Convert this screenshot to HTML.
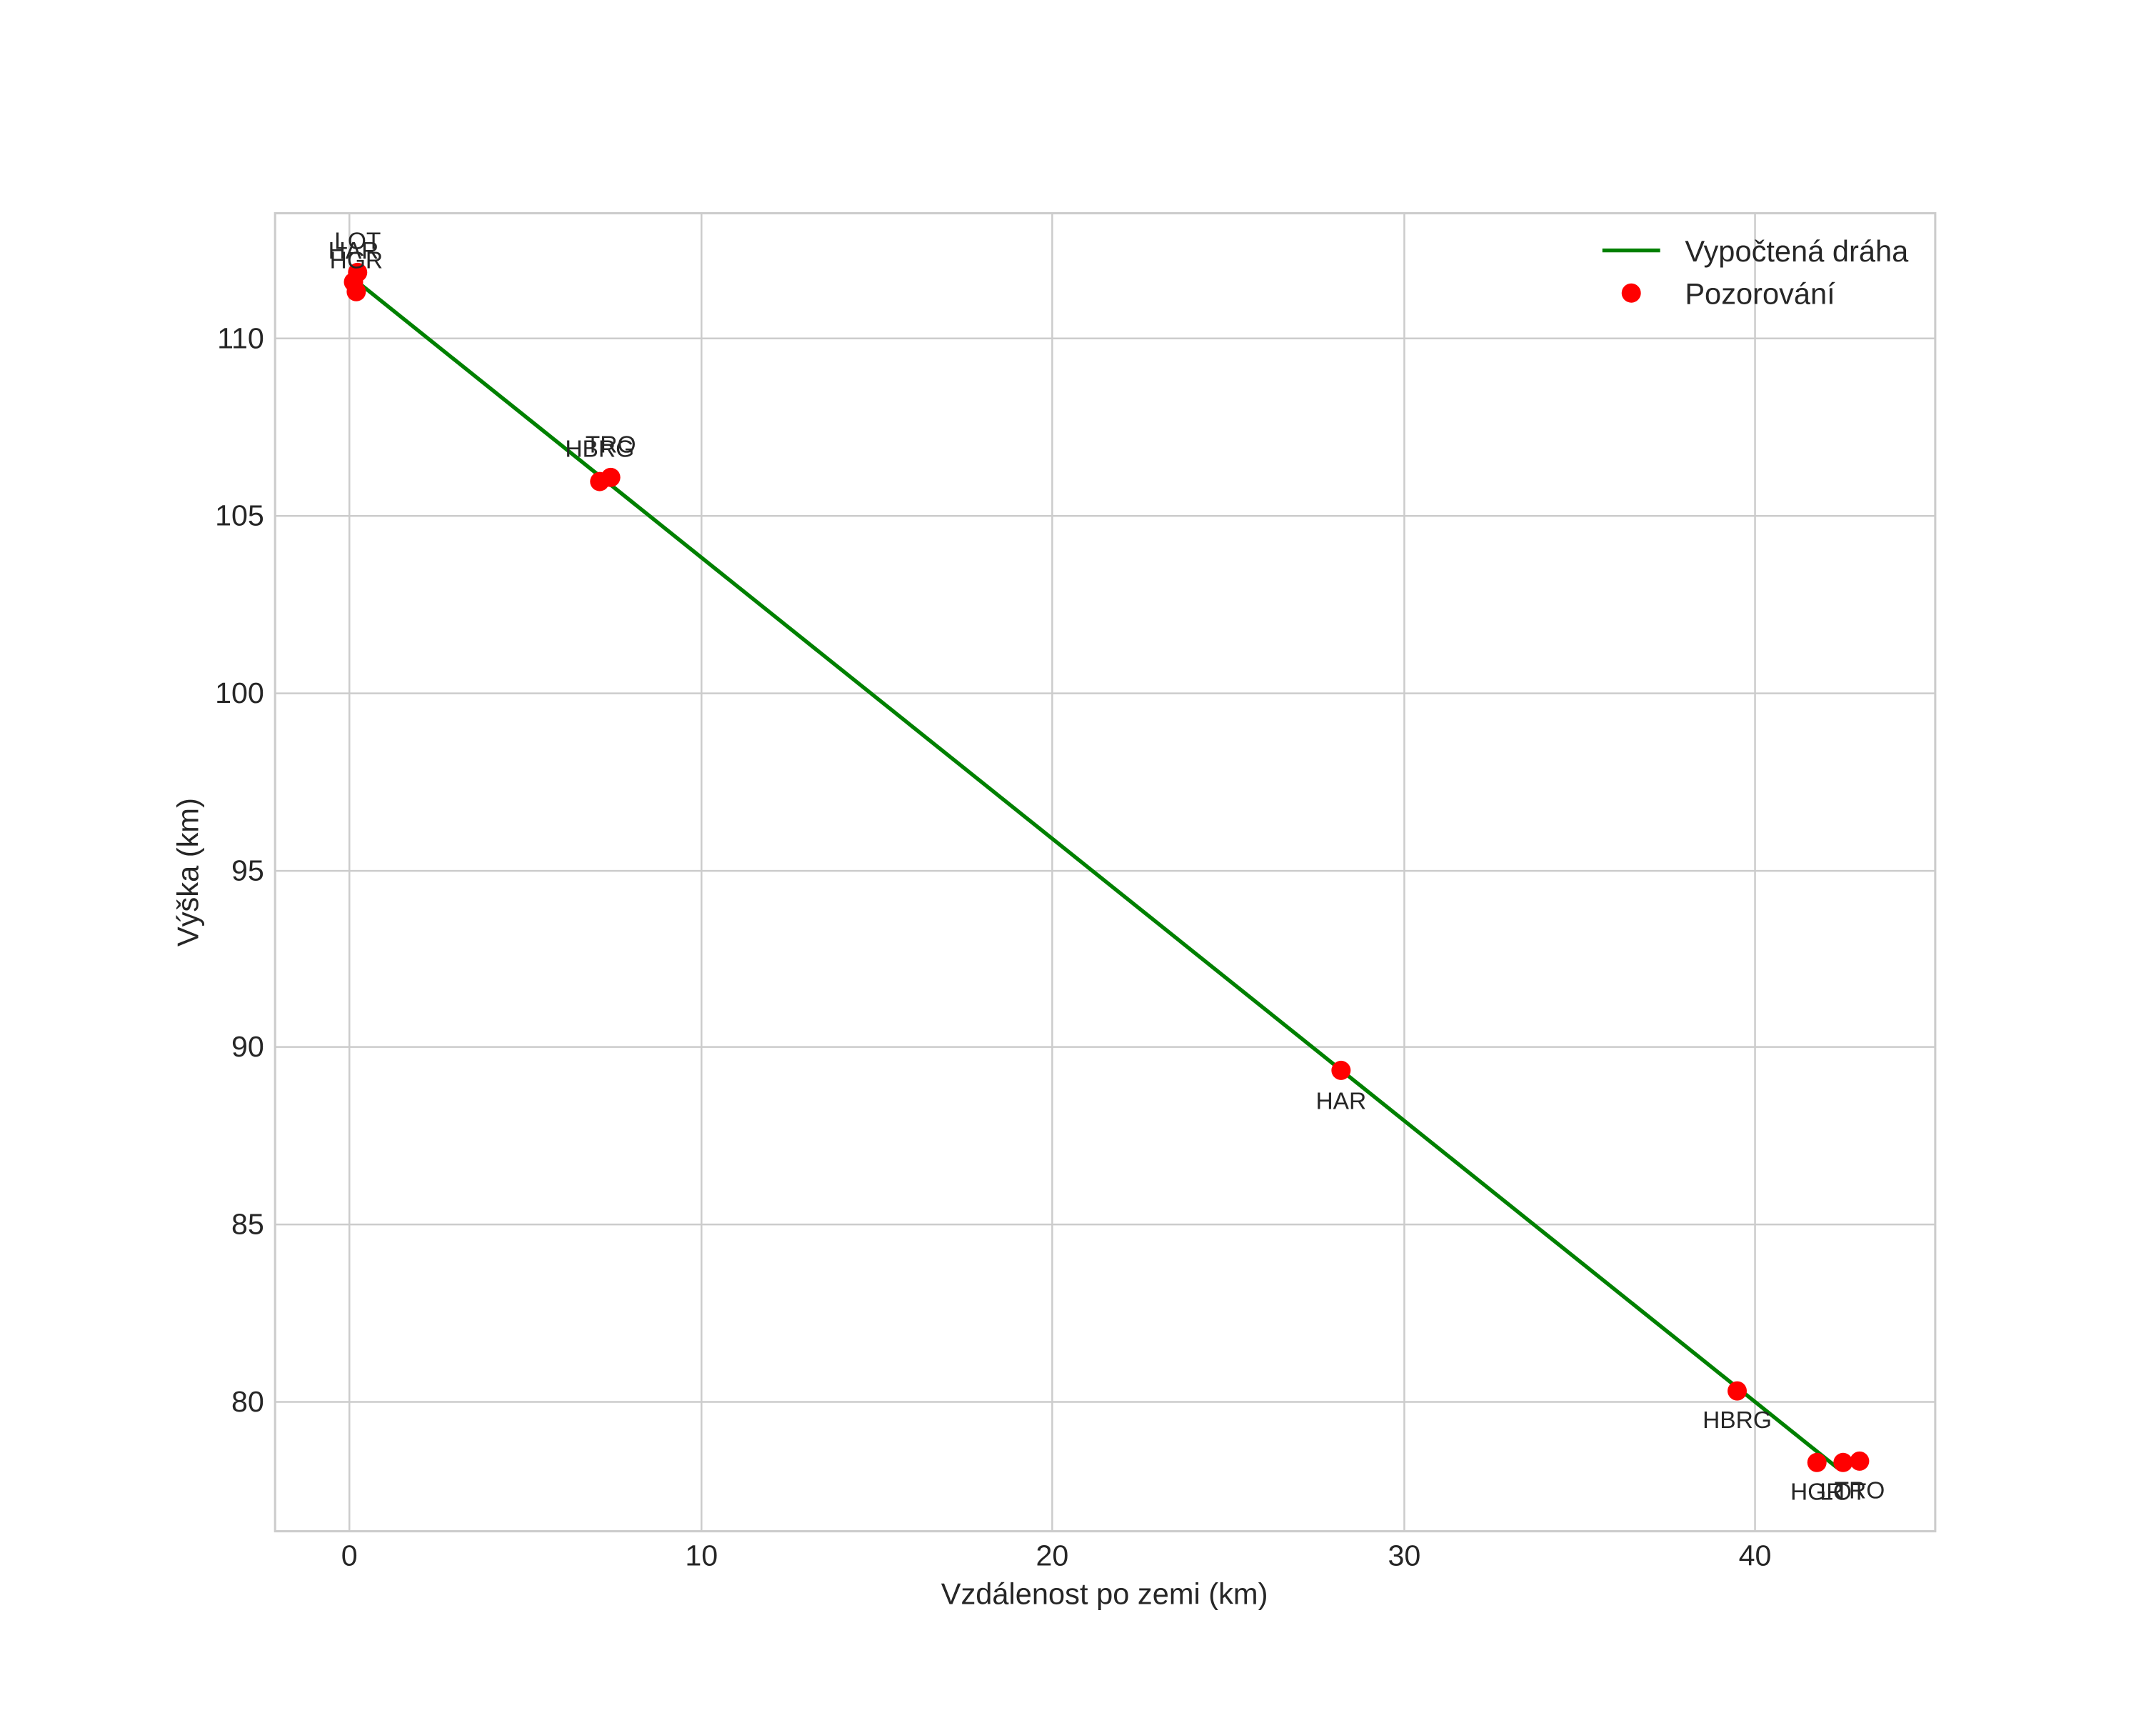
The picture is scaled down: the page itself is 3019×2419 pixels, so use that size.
<!DOCTYPE html>
<html><head><meta charset="utf-8"><style>html,body{margin:0;padding:0;background:#fff}svg{display:block}</style></head>
<body>
<svg width="3019" height="2419" viewBox="0 0 1567.5 1256" xmlns="http://www.w3.org/2000/svg" font-family="Liberation Sans, sans-serif" fill="#262626">
<rect width="1567.5" height="1256" fill="#fff"/>
<g stroke="#cccccc" stroke-width="1.3">
<line x1="254" y1="155" x2="254" y2="1113"/>
<line x1="510" y1="155" x2="510" y2="1113"/>
<line x1="765" y1="155" x2="765" y2="1113"/>
<line x1="1021" y1="155" x2="1021" y2="1113"/>
<line x1="1276" y1="155" x2="1276" y2="1113"/>
<line x1="200" y1="246" x2="1407" y2="246"/>
<line x1="200" y1="375" x2="1407" y2="375"/>
<line x1="200" y1="504" x2="1407" y2="504"/>
<line x1="200" y1="633" x2="1407" y2="633"/>
<line x1="200" y1="761" x2="1407" y2="761"/>
<line x1="200" y1="890" x2="1407" y2="890"/>
<line x1="200" y1="1019" x2="1407" y2="1019"/>
<rect x="200" y="155" width="1207" height="958" fill="none" stroke-width="1.6"/>
</g>
<g font-size="21.4" text-anchor="middle">
<text x="254" y="1138">0</text>
<text x="510" y="1138">10</text>
<text x="765" y="1138">20</text>
<text x="1021" y="1138">30</text>
<text x="1276" y="1138">40</text>
</g>
<g font-size="21.4" text-anchor="end">
<text x="192" y="253">110</text>
<text x="192" y="382">105</text>
<text x="192" y="511">100</text>
<text x="192" y="640">95</text>
<text x="192" y="768">90</text>
<text x="192" y="897">85</text>
<text x="192" y="1026">80</text>
</g>
<text x="803" y="1166" font-size="21.6" text-anchor="middle">Vzdálenost po zemi (km)</text>
<text transform="translate(144,634) rotate(-90)" font-size="21.6" text-anchor="middle">Výška (km)</text>
<line x1="260" y1="205" x2="1336" y2="1067" stroke="#008000" stroke-width="2.8"/>
<g fill="#ff0000">
<circle cx="257" cy="205" r="7"/><circle cx="260" cy="198" r="7"/><circle cx="259" cy="212" r="7"/>
<circle cx="436" cy="350" r="7"/><circle cx="444" cy="347" r="7"/>
<circle cx="975" cy="778" r="7"/>
<circle cx="1263" cy="1011" r="7"/>
<circle cx="1321" cy="1063" r="7"/><circle cx="1340" cy="1063" r="7"/><circle cx="1352" cy="1062" r="7"/>
</g>
<g font-size="17.4" text-anchor="middle">
<text x="260" y="181">LOT</text>
<text x="257" y="188">HAR</text>
<text x="259" y="195">HGR</text>
<text x="436" y="332">HBRG</text>
<text x="444" y="329">TRO</text>
<text x="975" y="806">HAR</text>
<text x="1263" y="1038">HBRG</text>
<text x="1321" y="1090">HGR</text>
<text x="1340" y="1090">LOT</text>
<text x="1352" y="1089">TRO</text>
</g>
<line x1="1165" y1="182" x2="1207" y2="182" stroke="#008000" stroke-width="2.8"/>
<circle cx="1186" cy="213" r="7" fill="#ff0000"/>
<g font-size="21.6">
<text x="1225" y="190">Vypočtená dráha</text>
<text x="1225" y="221">Pozorování</text>
</g>
</svg>
</body></html>
